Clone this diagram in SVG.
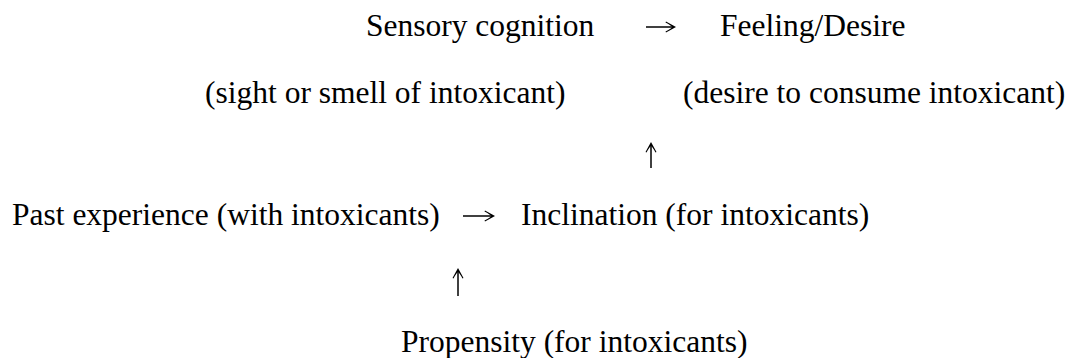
<svg xmlns="http://www.w3.org/2000/svg" width="1071" height="358" viewBox="0 0 1071 358">
<style>
text { font-family: "Liberation Serif", "Times New Roman", serif; font-size: 31.5px; fill: #000; }
.shaft { stroke: #000; stroke-width: 1.5; fill: none; }
.head { fill: #000; stroke: none; }
</style>
<defs>
<path id="rhead" class="head" d="M0 0 L-10 -5.5 L-10.5 -4.5 Q-4 -1 -4 0 Q-4 1 -10.5 4.5 L-10 5.5 Z"/>
</defs>
<rect width="1071" height="358" fill="#fff"/>
<g id="sensory"><text x="366" y="36">Sensory cognition</text><text x="205" y="103">(sight or smell of intoxicant)</text></g>
<g id="feeling"><text x="720" y="36">Feeling/Desire</text><text x="683" y="103">(desire to consume intoxicant)</text></g>
<g id="past"><text x="12" y="225">Past experience (with intoxicants)</text></g>
<g id="inclination"><text x="521" y="225">Inclination (for intoxicants)</text></g>
<g id="propensity"><text x="401" y="352">Propensity (for intoxicants)</text></g>
<g id="connectors">
<line class="shaft" x1="646" y1="27" x2="673" y2="27"/>
<use href="#rhead" transform="translate(676 27)"/>
<line class="shaft" x1="463" y1="216" x2="492" y2="216"/>
<use href="#rhead" transform="translate(495 216)"/>
<line class="shaft" x1="651" y1="168" x2="651" y2="145"/>
<use href="#rhead" transform="translate(651 142) rotate(-90)"/>
<line class="shaft" x1="458" y1="296" x2="458" y2="271"/>
<use href="#rhead" transform="translate(458 268) rotate(-90)"/>
</g>
</svg>
